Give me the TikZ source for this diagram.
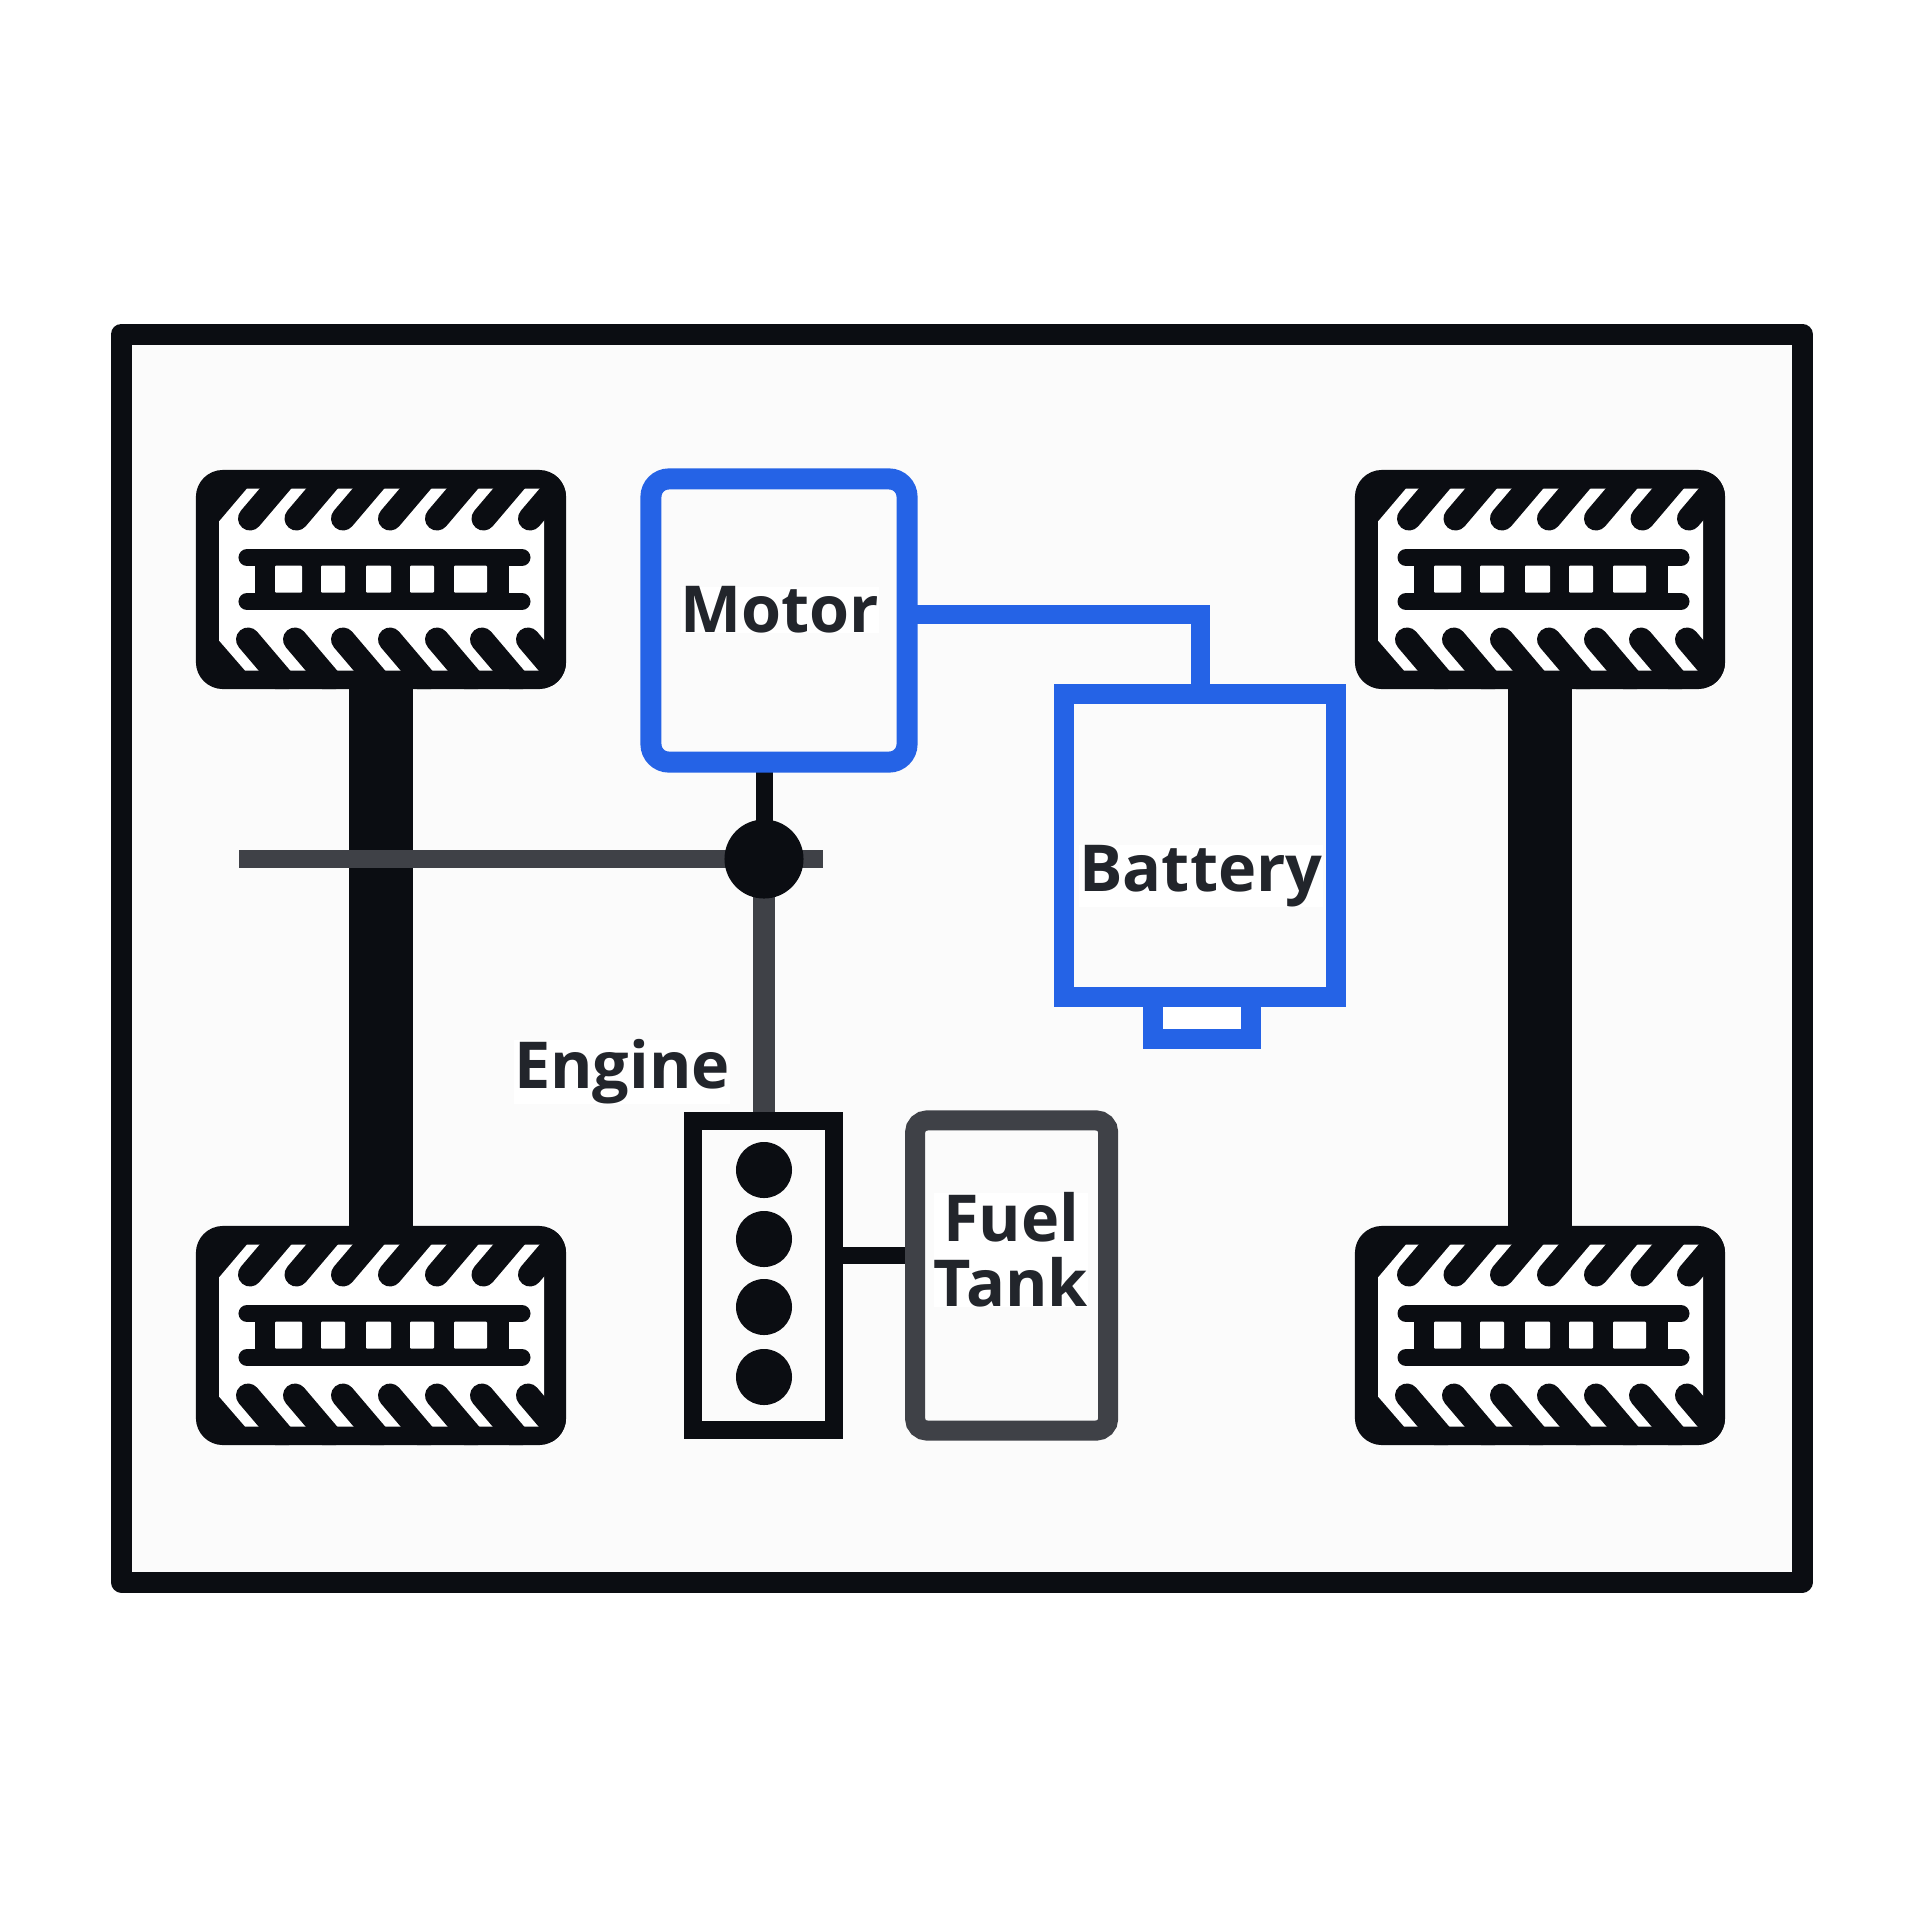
\documentclass[tikz,border=0pt]{standalone}
\usepackage{fontspec}
\setmainfont{Open Sans}
\usetikzlibrary{positioning, backgrounds}

\definecolor{ink}{HTML}{0B0D12}
\definecolor{steel}{HTML}{3F4147}
\definecolor{elec}{HTML}{2563E6}
\definecolor{panel}{HTML}{FBFBFB}
\definecolor{txt}{HTML}{22252B}

\begin{document}
\begin{tikzpicture}[
    x=0.01cm, y=-0.01cm,
    wheelbody/.style={rectangle, fill=ink, rounded corners=0.27cm, minimum width=3.7cm,
                      minimum height=2.19cm, inner sep=0pt, outer sep=0pt},
    box/.style={rectangle, draw, fill=panel, inner sep=0pt, outer sep=0pt},
    motorbox/.style={box, draw=elec, line width=0.21cm, rounded corners=0.18cm,
                     minimum width=2.56cm, minimum height=2.83cm},
    battbox/.style={box, draw=elec, line width=0.2cm, minimum width=2.72cm, minimum height=3.03cm},
    termbox/.style={box, draw=elec, line width=0.2cm, fill=white, minimum width=0.98cm, minimum height=0.42cm},
    enginebox/.style={box, draw=ink, line width=0.18cm, minimum width=1.4cm, minimum height=3.09cm},
    tankbox/.style={box, draw=steel, line width=0.2cm, rounded corners=0.12cm,
                    minimum width=1.93cm, minimum height=3.1cm},
    cyl/.style={circle, fill=ink, minimum size=0.56cm, inner sep=0pt},
    joint/.style={circle, fill=ink, minimum size=0.79cm, inner sep=0pt, outer sep=0pt},
    lbl/.style={font=\fontsize{18.4}{18.5}\selectfont\bfseries, text=txt, fill=white, align=center,
                inner sep=0pt},
    axle/.style={ink, line width=0.63cm},
    shaft/.style={steel, line width=0.18cm},
    elecwire/.style={elec, line width=0.19cm},
    inkwire/.style={ink, line width=0.17cm},
    wheel/.pic={
      \node[wheelbody] (-body) at (0,0) {};
      \fill[white] (-162,-58) -- (-134,-91) -- (163,-91) -- (163,91) -- (-136,91) -- (-162,61) -- cycle;
      % tread
      \begin{scope}
        \clip[rounded corners=0.27cm] (-185,-109.5) rectangle (185,109.5);
        \foreach \tx in {-131,-84.5,-38,9,56,102.5,149}
          \draw[ink, line width=0.24cm, line cap=round] (\tx,-61) -- ++(34,-40);
        \foreach \tx in {-133,-86,-38,9,56,101,147}
          \draw[ink, line width=0.24cm, line cap=round] (\tx,60) -- ++(34,40);
      \end{scope}
      % ladder
      \draw[ink, line width=0.17cm, line cap=round] (-134,-22) -- (141,-22);
      \draw[ink, line width=0.17cm, line cap=round] (-134,22) -- (141,22);
      \fill[ink] (-126,-22) rectangle (128,22);
      \foreach \sa/\sb in {-106/-79,-60/-36,-15/10,29/53,73/106}
        \fill[white, rounded corners=0.01cm] (\sa,-14) rectangle (\sb,13);
    }
  ]
    \useasboundingbox (0,0) rectangle (1920,1920);

    % Wheels
    \pic (wtl) at (381,579.5) {wheel};
    \pic (wbl) at (381,1335.5) {wheel};
    \pic (wtr) at (1540,579.5) {wheel};
    \pic (wbr) at (1540,1335.5) {wheel};

    % Boxes
    \node[motorbox] (motor) at (779,620.5) {};
    \node[termbox] (term) at (1202,1018) {};
    \node[battbox] (batt) at (1200,845.5) {};
    \node[enginebox] (engine) at (763.5,1275.5) {};
    \node[tankbox, right=0.815cm of engine] (tank) {};
    \foreach \i/\cy in {1/1170,2/1239,3/1307,4/1377}
      \node[cyl] (cyl\i) at (764,\cy) {};
    \node[joint] (hub) at (764,859) {};

    % Labels
    \node[lbl] (motorlbl) at (780,610) {Motor};
    \node[lbl] (battlbl) at (1201,876) {Battery};
    \node[lbl] (englbl) at (622,1072) {Engine};
    \node[lbl] (tanklbl) at (1011,1250) {Fuel\\Tank};

    \coordinate (shaftl) at (239,859);
    \coordinate (shaftr) at (823,859);
    \coordinate (elbow) at (1200,614);

    % Connectors and frame go behind the boxes
    \begin{scope}[on background layer]
      \draw[ink, line width=0.21cm, fill=panel, line join=round] (121.5,334) rectangle (1802,1582);
      \draw[axle] (wtl-body) -- (wbl-body);
      \draw[axle] (wtr-body) -- (wbr-body);
      \draw[shaft] (shaftl) -- (shaftr);
      \draw[inkwire] (motor.south -| hub) -- (hub.center);
      \draw[steel, line width=0.21cm] (hub.center) -- (engine.north -| hub);
      \draw[inkwire] (engine.east |- 0,1255) -- (tank.west |- 0,1255);
      \draw[elecwire] (motor.east |- elbow) -- (elbow) -- (batt.north -| elbow);
    \end{scope}
\end{tikzpicture}
\end{document}
